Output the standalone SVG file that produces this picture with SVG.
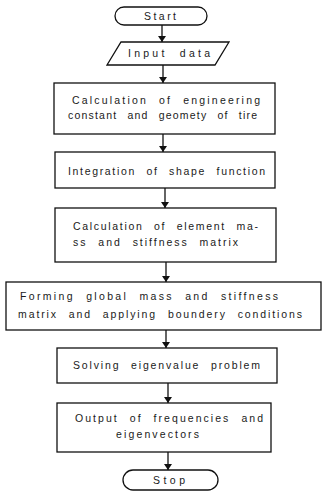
<svg xmlns="http://www.w3.org/2000/svg" width="324" height="494" viewBox="0 0 324 494">
<style>
  .shape { fill: #fff; stroke: #111; stroke-width: 1.3; }
  .lbl { font-family: "Liberation Sans", Arial, sans-serif; font-size: 10.5px; fill: #1a1a1a; word-spacing: 6px; }
  .conn { stroke: #111; stroke-width: 1.3; fill: none; marker-end: url(#arr); }
</style>
<defs>
  <marker id="arr" viewBox="0 0 6 8" refX="6" refY="4" markerWidth="6" markerHeight="8" orient="auto" markerUnits="userSpaceOnUse">
    <path d="M0,0 L6,4 L0,8 Z" fill="#111"/>
  </marker>
</defs>
<rect width="324" height="494" fill="#fff"/>
<g id="connectors">
  <line class="conn" x1="162" y1="25" x2="162" y2="42"/>
  <line class="conn" x1="163" y1="65" x2="163" y2="83"/>
  <line class="conn" x1="163" y1="134" x2="163" y2="152"/>
  <line class="conn" x1="165" y1="188" x2="165" y2="208"/>
  <line class="conn" x1="166" y1="262" x2="166" y2="282"/>
  <line class="conn" x1="166" y1="330" x2="166" y2="348"/>
  <line class="conn" x1="168" y1="383" x2="168" y2="403"/>
  <line class="conn" x1="168" y1="452" x2="168" y2="470"/>
</g>
<g id="start">
  <rect class="shape" x="115" y="7" width="92" height="18" rx="9"/>
  <text class="lbl" x="144" y="20" textLength="32" lengthAdjust="spacing">Start</text>
</g>
<g id="input">
  <polygon class="shape" points="121,42 229,42 215,65 107,65"/>
  <text class="lbl" x="128" y="57" textLength="82" lengthAdjust="spacing">Input data</text>
</g>
<g id="box1">
  <rect class="shape" x="54" y="83" width="221" height="51"/>
  <text class="lbl" x="72" y="104" textLength="188" lengthAdjust="spacing">Calculation of engineering</text>
  <text class="lbl" x="68" y="119" textLength="189" lengthAdjust="spacing">constant and geomety of tire</text>
</g>
<g id="box2">
  <rect class="shape" x="55" y="152" width="220" height="36"/>
  <text class="lbl" x="68" y="175" textLength="197" lengthAdjust="spacing">Integration of shape function</text>
</g>
<g id="box3">
  <rect class="shape" x="55" y="208" width="221" height="54"/>
  <text class="lbl" x="73" y="230" textLength="185" lengthAdjust="spacing">Calculation of element ma-</text>
  <text class="lbl" x="73" y="246" textLength="165" lengthAdjust="spacing">ss and stiffness matrix</text>
</g>
<g id="box4">
  <rect class="shape" x="6" y="282" width="315" height="48"/>
  <text class="lbl" x="20" y="300" textLength="258" lengthAdjust="spacing">Forming global mass and stiffness</text>
  <text class="lbl" x="18" y="318" textLength="284" lengthAdjust="spacing">matrix and applying boundery conditions</text>
</g>
<g id="box5">
  <rect class="shape" x="57" y="348" width="220" height="35"/>
  <text class="lbl" x="73" y="369" textLength="187" lengthAdjust="spacing">Solving eigenvalue problem</text>
</g>
<g id="box6">
  <rect class="shape" x="57" y="403" width="214" height="49"/>
  <text class="lbl" x="75" y="422" textLength="188" lengthAdjust="spacing">Output of frequencies and</text>
  <text class="lbl" x="116" y="438" textLength="83" lengthAdjust="spacing">eigenvectors</text>
</g>
<g id="stop">
  <rect class="shape" x="123" y="470" width="95" height="20" rx="10"/>
  <text class="lbl" x="153" y="484" textLength="32" lengthAdjust="spacing">Stop</text>
</g>
</svg>
